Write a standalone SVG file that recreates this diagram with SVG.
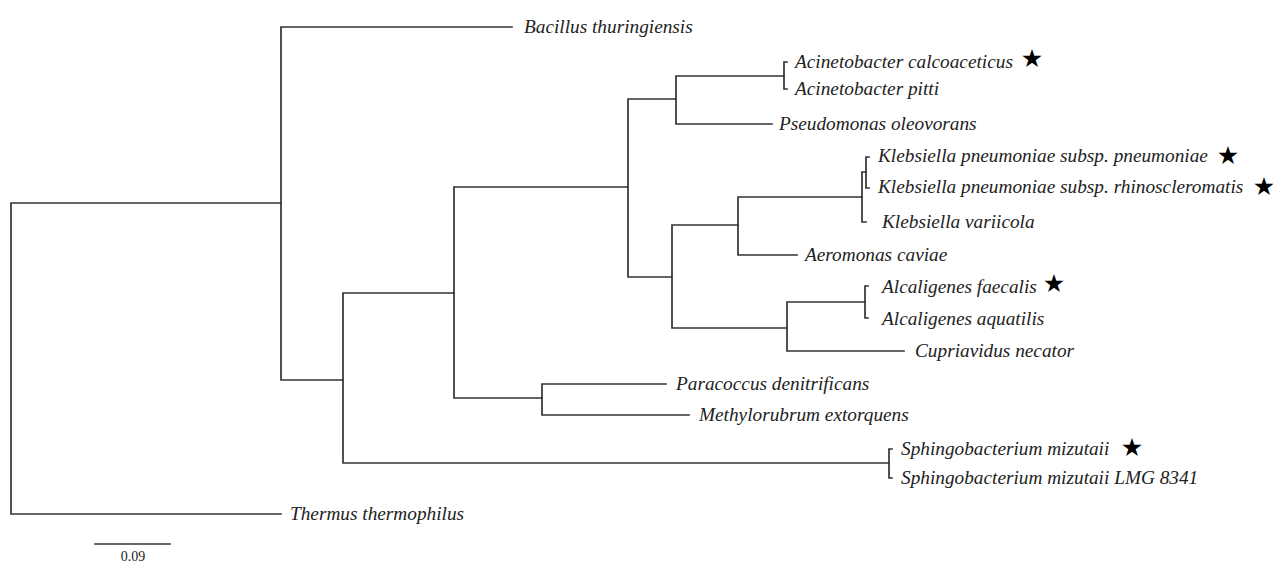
<svg xmlns="http://www.w3.org/2000/svg" width="1273" height="563" viewBox="0 0 1273 563">
<style>
.br{fill:none;stroke:#333;stroke-width:1.7;stroke-linecap:square;stroke-linejoin:miter}
.lb{font-family:"Liberation Serif","Times New Roman",serif;font-style:italic;font-size:19.3px;fill:#222}
.st{font-family:"DejaVu Sans",sans-serif;font-size:25px;fill:#000;text-anchor:middle}
.sc{font-family:"Liberation Serif","Times New Roman",serif;font-size:14px;fill:#222;text-anchor:middle}
</style>
<rect width="1273" height="563" fill="#fff"/>
<g id="connectors">
<path class="br" d="M281 203H11V514H281"/>
<path class="br" d="M512 27H281V380H343"/>
<path class="br" d="M454 293H343V463H889"/>
<path class="br" d="M628 187H454V398H542"/>
<path class="br" d="M666 384H542V415H689"/>
<path class="br" d="M676 99H628V277H672"/>
<path class="br" d="M784 76H676V124H772"/>
<path class="br" d="M787 62H784V89H787"/>
<path class="br" d="M738 225H672V328H787"/>
<path class="br" d="M862 197H738V255H797"/>
<path class="br" d="M866 172H862V222H866"/>
<path class="br" d="M869 157H866V188H869"/>
<path class="br" d="M865 302H787V351H904"/>
<path class="br" d="M868 286H865V318H868"/>
<path class="br" d="M892 449H889V478H892"/>
<path class="br" d="M95 544H170"/>
</g>
<g id="n-bacillus"><text class="lb" x="524" y="33">Bacillus thuringiensis</text></g>
<g id="n-acal"><text class="lb" x="795" y="68">Acinetobacter calcoaceticus</text><text class="st" x="1032" y="67">★</text></g>
<g id="n-apitti"><text class="lb" x="795" y="95">Acinetobacter pitti</text></g>
<g id="n-pseudo"><text class="lb" x="779" y="130">Pseudomonas oleovorans</text></g>
<g id="n-kpp"><text class="lb" x="878" y="162">Klebsiella pneumoniae subsp. pneumoniae</text><text class="st" x="1228" y="164">★</text></g>
<g id="n-kpr"><text class="lb" x="878" y="193">Klebsiella pneumoniae subsp. rhinoscleromatis</text><text class="st" x="1264" y="195">★</text></g>
<g id="n-kvar"><text class="lb" x="882" y="228">Klebsiella variicola</text></g>
<g id="n-aero"><text class="lb" x="805" y="261">Aeromonas caviae</text></g>
<g id="n-afae"><text class="lb" x="882" y="293">Alcaligenes faecalis</text><text class="st" x="1054" y="292">★</text></g>
<g id="n-aaqu"><text class="lb" x="882" y="325">Alcaligenes aquatilis</text></g>
<g id="n-cupri"><text class="lb" x="915" y="357">Cupriavidus necator</text></g>
<g id="n-para"><text class="lb" x="676" y="390">Paracoccus denitrificans</text></g>
<g id="n-methyl"><text class="lb" x="699" y="421">Methylorubrum extorquens</text></g>
<g id="n-sphm"><text class="lb" x="901" y="455">Sphingobacterium mizutaii</text><text class="st" x="1132" y="456">★</text></g>
<g id="n-sphl"><text class="lb" x="901" y="484">Sphingobacterium mizutaii LMG 8341</text></g>
<g id="n-thermus"><text class="lb" x="290" y="520">Thermus thermophilus</text></g>
<g id="scale"><text class="sc" x="133" y="561">0.09</text></g>
</svg>
